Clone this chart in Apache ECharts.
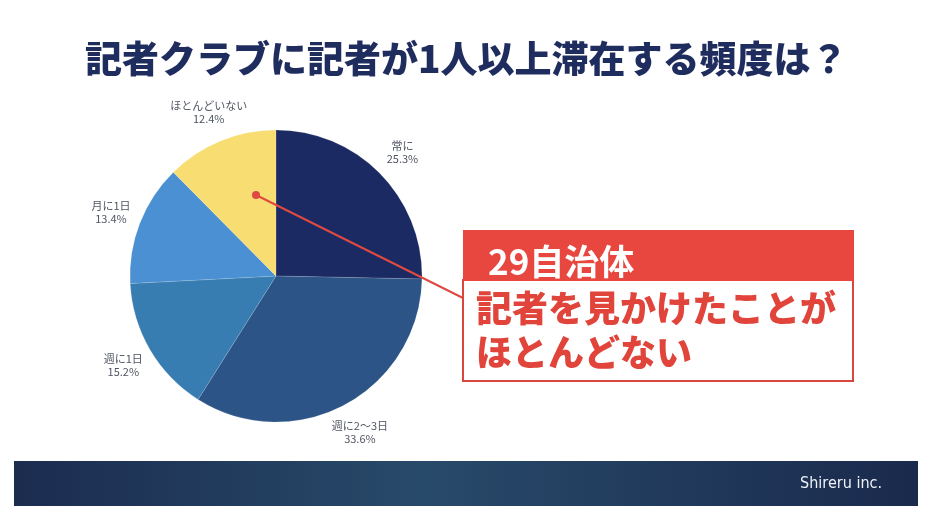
<!DOCTYPE html>
<html><head><meta charset="utf-8">
<script src="https://cdn.jsdelivr.net/npm/echarts@6/dist/echarts.min.js"></script>
<style>html,body{margin:0;padding:0;background:#fff}#c{width:934px;height:519px}</style>
</head><body><div id="c"></div>
<script>
const categories = ['常に', '週に2～3日', '週に1日', '月に1日', 'ほとんどいない'];
const values = [25.3, 33.6, 15.2, 13.4, 12.4];
const colors = ['#1b2a63', '#2c5487', '#387db2', '#4a90d2', '#f8dd72'];
const titleText = '記者クラブに記者が1人以上滞在する頻度は？';
const calloutHead = '29自治体';
const calloutBody = ['記者を見かけたことが', 'ほとんどない'];
const footerText = 'Shireru inc.';

const data = categories.map((n, i) => ({ name: n, value: values[i], itemStyle: { color: colors[i] } }));
const chart = echarts.init(document.getElementById('c'));
const JP = '"Noto Sans CJK JP", "Noto Sans", sans-serif';
chart.setOption({
  animation: false,
  title: {
    text: titleText, left: 80, top: 35,
    textStyle: { fontFamily: JP, fontWeight: 900, fontSize: 37, color: '#1f2d5e' }
  },
  series: [
    {
      type: 'pie', center: [276, 276], radius: 146, startAngle: 90, clockwise: true,
      silent: true, label: { show: false }, labelLine: { show: false },
      itemStyle: { borderColor: 'rgba(255,255,255,0.25)', borderWidth: 0.5 },
      data: data
    },
    {
      type: 'pie', center: [276, 276], radius: [150, 198], startAngle: 90, clockwise: true,
      silent: true,
      itemStyle: { color: 'rgba(0,0,0,0)' },
      label: {
        show: true, position: 'inside', formatter: p => p.name + '\n' + p.value + '%',
        color: '#4f5561', fontSize: 11, lineHeight: 13, fontFamily: JP
      },
      labelLine: { show: false },
      data: categories.map((n, i) => ({ name: n, value: values[i] }))
    }
  ],
  graphic: [
    { type: 'rect', z: 1, shape: { x: 14, y: 461, width: 904, height: 45 },
      style: { fill: { type: 'linear', x: 0, y: 0, x2: 1, y2: 0, colorStops: [
        { offset: 0, color: '#1b2c4f' }, { offset: 0.45, color: '#284a6a' }, { offset: 1, color: '#1a2a4d' }] } } },
    { type: 'text', z: 2, style: { text: footerText, x: 882, y: 484, align: 'right', verticalAlign: 'middle',
      fill: '#eef2f6', font: '16px "DejaVu Sans Condensed", "Liberation Sans Narrow", sans-serif' } },
    { type: 'line', z: 10, shape: { x1: 256, y1: 195, x2: 463, y2: 298 }, style: { stroke: '#df4a40', lineWidth: 2 } },
    { type: 'circle', z: 10, shape: { cx: 256, cy: 195, r: 4 }, style: { fill: '#df4a40' } },
    { type: 'rect', z: 10, shape: { x: 463, y: 280, width: 390, height: 101 }, style: { fill: '#fff', stroke: '#d9463e', lineWidth: 2 } },
    { type: 'rect', z: 11, shape: { x: 463, y: 230, width: 391, height: 51 }, style: { fill: '#e8473f' } },
    { type: 'text', z: 12, style: { text: calloutHead, x: 488, y: 262, verticalAlign: 'middle', fill: '#fff',
      font: '700 35px ' + JP } },
    { type: 'text', z: 12, style: { text: calloutBody[0], x: 476, y: 308, verticalAlign: 'middle', fill: '#e0443b',
      font: '900 36px ' + JP } },
    { type: 'text', z: 12, style: { text: calloutBody[1], x: 476, y: 352, verticalAlign: 'middle', fill: '#e0443b',
      font: '900 36px ' + JP } }
  ]
});
</script></body></html>
